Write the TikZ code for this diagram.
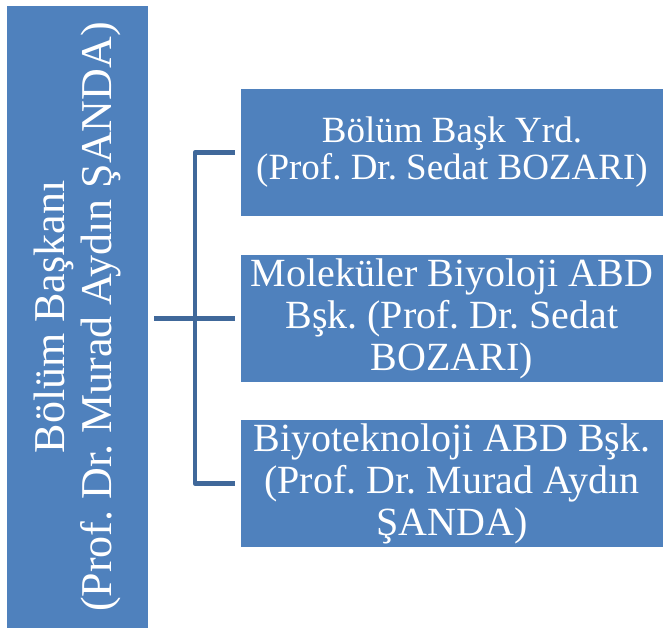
\documentclass[tikz,border=0pt]{standalone}
\usepackage{fontspec}
\setmainfont{Liberation Serif}
\usetikzlibrary{calc}
\usetikzlibrary{math}
\frenchspacing

\begin{document}
\begin{tikzpicture}[x=1pt, y=-1pt]
    \definecolor{unitblue}{RGB}{79, 129, 189}
    \definecolor{linkblue}{RGB}{64, 104, 154}
    
    \tikzmath {
        \headX = 77.5;
        \headY = 317;
        \headW = 141;
        \headH = 622;
        \subX = 452;
        \subW = 422;
        \subH = 127;
        \forkX = 195;
        \gap = 6;
    }
    
    \tikzset{
        unit/.style={fill=unitblue, text=white, align=center, inner sep=0pt},
        link/.style={draw=linkblue, line width=4.5pt, line join=round, shorten <=\gap pt, shorten >=\gap pt}
    }
    
    \useasboundingbox (0,0) rectangle (663,629);
    
    \node[unit, rotate=90, minimum width=\headH, minimum height=\headW, font=\fontsize{44}{47}\selectfont] (chair) at (\headX, \headY)
        {Bölüm Başkanı\\(Prof. Dr. Murad Aydın ŞANDA)};
    
    \node[unit, minimum width=\subW, minimum height=\subH, font=\fontsize{37}{37}\selectfont] (vice_chair) at (\subX, 152.5)
        {Bölüm Başk Yrd.\\(Prof. Dr. Sedat BOZARI)};
    \node[unit, minimum width=\subW, minimum height=\subH, font=\fontsize{40}{42}\selectfont] (mol_head) at (\subX, 318.5)
        {Moleküler Biyoloji ABD\\Bşk. (Prof. Dr. Sedat\\BOZARI)};
    \node[unit, minimum width=\subW, minimum height=\subH, font=\fontsize{40}{42}\selectfont] (bio_head) at (\subX, 483.5)
        {Biyoteknoloji ABD Bşk.\\(Prof. Dr. Murad Aydın\\ŞANDA)};
    
    \coordinate (fork) at (\forkX, 0);
    
    \draw[link] (chair.south |- mol_head.west) -- (mol_head.west);
    \draw[link] (vice_chair.west) -| (fork |- bio_head.west) -- (bio_head.west);
    
\end{tikzpicture}
\end{document}
